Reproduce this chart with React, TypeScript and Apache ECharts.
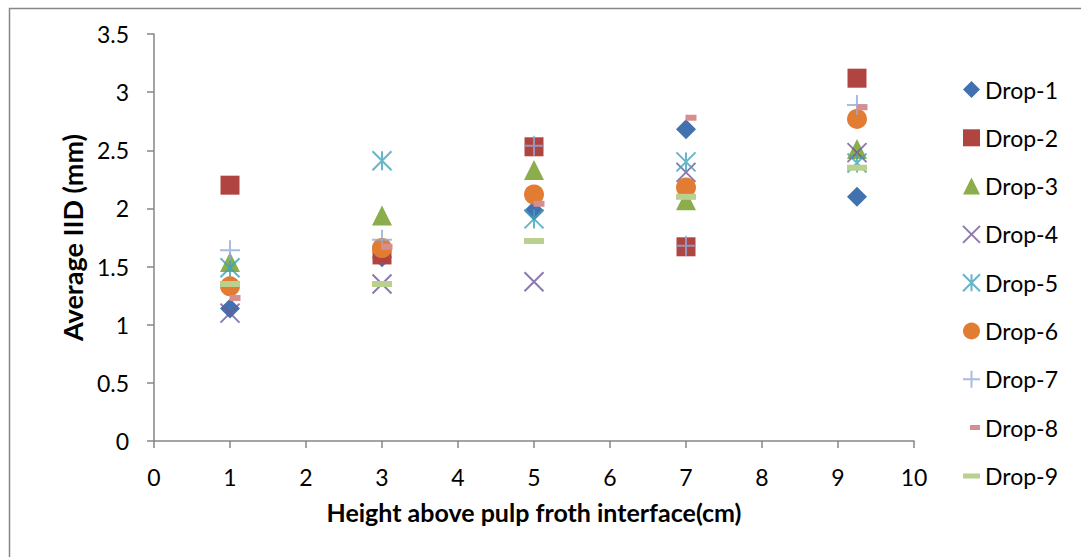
import React, { useEffect, useRef } from "react";
import * as echarts from "echarts";

// Heights above the pulp/froth interface (cm)
const heights = [1, 3, 5, 7, 9.25];

// Average IID (mm) per drop at each height
const drop1 = [1.14, 1.58, 1.98, 2.68, 2.1];
const drop2 = [2.2, 1.6, 2.53, 1.67, 3.12];
const drop3 = [1.54, 1.94, 2.33, 2.07, 2.51];
const drop4 = [1.1, 1.35, 1.37, 2.31, 2.48];
const drop5 = [1.49, 2.41, 1.91, 2.4, 2.39];
const drop6 = [1.33, 1.66, 2.12, 2.18, 2.77];
const drop7 = [1.64, 1.73, 2.54, 1.68, 2.89];
const drop8 = [1.23, 1.67, 2.04, 2.78, 2.87];
const drop9 = [1.35, 1.35, 1.72, 2.1, 2.35];

const seriesNames = ["Drop-1", "Drop-2", "Drop-3", "Drop-4", "Drop-5", "Drop-6", "Drop-7", "Drop-8", "Drop-9"];
const seriesValues = [drop1, drop2, drop3, drop4, drop5, drop6, drop7, drop8, drop9];

const FONT = "Lato, 'Open Sans', sans-serif";
const AXIS_GRAY = "#868686";

const CROSS = "path://M0 0 L10 10 M10 0 L0 10";
const STAR = "path://M0 0 L10 10 M10 0 L0 10 M5 0 L5 10";
const PLUS = "path://M5 0 L5 10 M0 5 L10 5";

// Legend dashes keep a 17x17 footprint through zero-length corner segments
const SHORT_DASH_ICON = "path://M0 0 L0.01 0 M17 17 L16.99 17 M7 6 H17 V11 H7 Z";
const LONG_DASH_ICON = "path://M0 0 L0.01 0 M17 17 L16.99 17 M0 6 H17 V11 H0 Z";

type MarkerStyle = {
  symbol: string;
  size: number | number[];
  color: string;
  stroke?: boolean;
  offset?: number[];
  legendIcon?: string;
};

const markers: MarkerStyle[] = [
  { symbol: "diamond", size: 20, color: "#4171AF" },
  { symbol: "rect", size: 19, color: "#AF4441" },
  { symbol: "triangle", size: 20, color: "#8CAD4C" },
  { symbol: CROSS, size: 19, color: "#72579A", stroke: true },
  { symbol: STAR, size: 19, color: "#40A3BC", stroke: true },
  { symbol: "circle", size: 20, color: "#E27C33" },
  { symbol: PLUS, size: 20, color: "#91ABD8", stroke: true },
  { symbol: "rect", size: [11, 6], color: "#D68F8E", offset: [5, 0], legendIcon: SHORT_DASH_ICON },
  { symbol: "rect", size: [20, 6], color: "#B9D08F", legendIcon: LONG_DASH_ICON },
];

export default function App() {
  const ref = useRef<HTMLDivElement>(null);

  useEffect(() => {
    if (!ref.current) return;
    const chart = echarts.init(ref.current, null, { renderer: "svg" });

    const series = seriesNames.map((name, i) => {
      const m = markers[i];
      return {
        name,
        type: "scatter",
        symbol: m.symbol,
        symbolSize: m.size,
        symbolOffset: m.offset || [0, 0],
        data: heights.map((h, j) => [h, seriesValues[i][j]]),
        itemStyle: m.stroke
          ? { color: "rgba(0,0,0,0)", borderColor: m.color, borderWidth: 2 }
          : { color: m.color, opacity: 1 },
        emphasis: { disabled: true },
      };
    });

    chart.setOption({
      animation: false,
      backgroundColor: "#ffffff",
      textStyle: { fontFamily: FONT },
      grid: { left: 154, top: 34, right: 167, bottom: 116, containLabel: false },
      xAxis: {
        type: "value",
        min: 0,
        max: 10,
        interval: 1,
        name: "Height above pulp froth interface(cm)",
        nameLocation: "middle",
        nameGap: 58,
        nameTextStyle: { fontFamily: FONT, fontSize: 25, fontWeight: "bold", color: "#000" },
        axisLine: { show: true, lineStyle: { color: AXIS_GRAY, width: 1.5 } },
        axisTick: { show: true, inside: false, length: 7, lineStyle: { color: AXIS_GRAY, width: 1.5 } },
        axisLabel: { fontFamily: FONT, fontSize: 23, color: "#000", margin: 24 },
        splitLine: { show: false },
      },
      yAxis: {
        type: "value",
        min: 0,
        max: 3.5,
        interval: 0.5,
        name: "Average IID (mm)",
        nameLocation: "middle",
        nameGap: 66,
        nameRotate: 90,
        nameTextStyle: { fontFamily: FONT, fontSize: 27, fontWeight: "bold", color: "#000" },
        axisLine: { show: true, lineStyle: { color: AXIS_GRAY, width: 1.5 } },
        axisTick: { show: true, inside: false, length: 7, lineStyle: { color: AXIS_GRAY, width: 1.5 } },
        axisLabel: { fontFamily: FONT, fontSize: 23, color: "#000", margin: 25 },
        splitLine: { show: false },
      },
      legend: {
        orient: "vertical",
        left: 962,
        top: 78,
        padding: 0,
        itemWidth: 17,
        itemHeight: 17,
        itemGap: 25.3,
        selectedMode: false,
        textStyle: { fontFamily: FONT, fontSize: 23, color: "#000" },
        data: seriesNames.map((name, i) =>
          markers[i].legendIcon ? { name, icon: markers[i].legendIcon } : { name }
        ),
      },
      graphic: [
        {
          type: "rect",
          left: 7,
          top: 6,
          shape: { width: 1200, height: 700 },
          style: { fill: "none", stroke: AXIS_GRAY, lineWidth: 1.5 },
          silent: true,
          z: -10,
        },
      ],
      series,
    });

    return () => chart.dispose();
  }, []);

  return (
    <div
      ref={ref}
      style={{ position: "absolute", left: 0, top: 0, width: 1081, height: 557 }}
    />
  );
}
